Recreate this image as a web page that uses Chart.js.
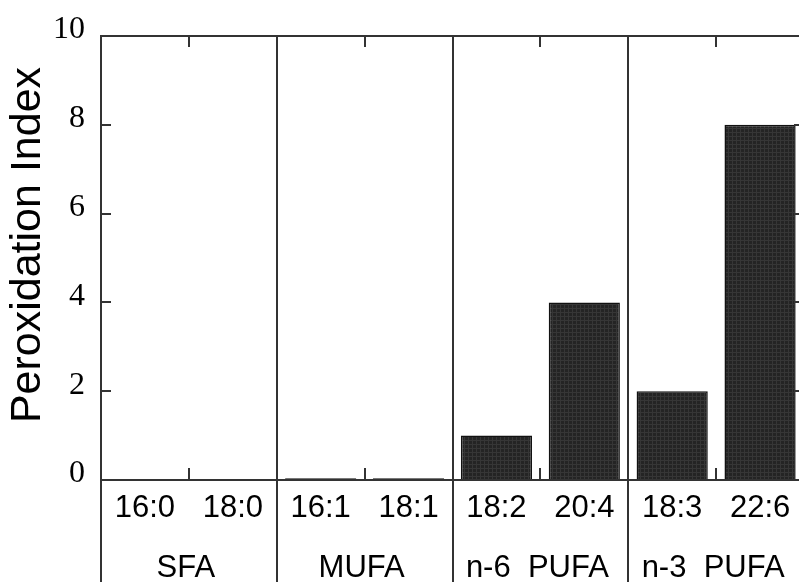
<!DOCTYPE html>
<html>
<head>
<meta charset="utf-8">
<script src="https://cdn.jsdelivr.net/npm/chart.js@4/dist/chart.umd.min.js"></script>
<style>
  html, body { margin: 0; padding: 0; overflow: hidden; background: #fff; }
  #wrap { position: relative; width: 806px; height: 582px; }
</style>
</head>
<body>
<div id="wrap"><canvas id="c"></canvas></div>
<script>
// Fatty acids and their peroxidation index
const fattyAcids = ['16:0', '18:0', '16:1', '18:1', '18:2', '20:4', '18:3', '22:6'];
const peroxidationIndex = [0, 0, 0.04, 0.04, 1, 4, 2, 8];
// Class labels, one per pair of fatty acids
const fattyAcidClasses = ['SFA', 'MUFA', 'n-6  PUFA', 'n-3  PUFA'];
const yTickValues = [0, 2, 4, 6, 8, 10];
const yTitle = 'Peroxidation Index';

const canvas = document.getElementById('c');
const ctx2d = canvas.getContext('2d');

// Fine dark mesh used to fill the bars
function meshPattern() {
  const t = document.createElement('canvas');
  t.width = 4; t.height = 4;
  const g = t.getContext('2d');
  g.fillStyle = '#242424';
  g.fillRect(0, 0, 4, 4);
  g.fillStyle = '#363636';
  g.fillRect(0, 0, 4, 1);
  g.fillRect(0, 0, 1, 4);
  return ctx2d.createPattern(t, 'repeat');
}

const LINE = '#333';

// Frame, group dividers, inward ticks, class labels and the y title
const framePlugin = {
  id: 'frame',
  afterDatasetsDraw(chart) {
    const { ctx, chartArea: a, scales: { x, y } } = chart;
    const H = chart.height;
    const step = x.getPixelForValue(1) - x.getPixelForValue(0);
    ctx.save();
    ctx.strokeStyle = LINE;
    ctx.lineWidth = 2;
    ctx.lineCap = 'butt';
    ctx.beginPath();
    // top and bottom lines
    ctx.moveTo(a.left, a.top); ctx.lineTo(a.right, a.top);
    ctx.moveTo(a.left, a.bottom); ctx.lineTo(a.right, a.bottom);
    // left axis runs down through the label rows
    ctx.moveTo(a.left, a.top - 1); ctx.lineTo(a.left, H);
    ctx.moveTo(a.right, a.top - 1); ctx.lineTo(a.right, a.bottom);
    // boundaries between categories
    for (let k = 1; k < fattyAcids.length; k++) {
      const bx = Math.round(x.getPixelForValue(k) - step / 2);
      if (k % 2 === 0) {
        ctx.moveTo(bx, a.top); ctx.lineTo(bx, H);
      } else {
        ctx.moveTo(bx, a.top); ctx.lineTo(bx, a.top + 11);
        ctx.moveTo(bx, a.bottom); ctx.lineTo(bx, a.bottom - 12);
      }
    }
    // y ticks on both sides, pointing inward
    yTickValues.forEach(v => {
      const py = Math.round(y.getPixelForValue(v));
      ctx.moveTo(a.left, py); ctx.lineTo(a.left + 10, py);
      ctx.moveTo(a.right, py); ctx.lineTo(a.right - 10, py);
    });
    ctx.stroke();

    // class labels under each pair
    ctx.fillStyle = '#000';
    ctx.font = '31px "Liberation Sans", Arial, sans-serif';
    ctx.textAlign = 'center';
    ctx.textBaseline = 'alphabetic';
    fattyAcidClasses.forEach((name, i) => {
      const cx = (x.getPixelForValue(2 * i) + x.getPixelForValue(2 * i + 1)) / 2;
      ctx.fillText(name, cx - 3, H - 5);
    });

    // y axis title
    ctx.font = '43px "Liberation Sans", Arial, sans-serif';
    ctx.translate(28, (a.top + a.bottom) / 2 - 13);
    ctx.rotate(-Math.PI / 2);
    ctx.textBaseline = 'middle';
    ctx.fillText(yTitle, 0, 0);
    ctx.restore();
  }
};

new Chart(canvas, {
  type: 'bar',
  data: {
    labels: fattyAcids,
    datasets: [{
      data: peroxidationIndex,
      backgroundColor: meshPattern(),
      borderColor: '#111',
      borderWidth: 1.5,
      categoryPercentage: 1,
      barPercentage: 0.81
    }]
  },
  options: {
    responsive: true,
    maintainAspectRatio: false,
    animation: false,
    layout: { padding: { top: 36, right: 2, left: 0, bottom: 0 } },
    plugins: { legend: { display: false }, tooltip: { enabled: false } },
    scales: {
      x: {
        grid: { display: false, drawTicks: false },
        border: { display: false },
        ticks: {
          color: '#000',
          padding: 10,
          maxRotation: 0,
          autoSkip: false,
          font: { family: '"Liberation Sans", Arial, sans-serif', size: 31 }
        },
        afterFit(s) { s.height = 102; }
      },
      y: {
        min: 0,
        max: 10,
        grid: { display: false, drawTicks: false },
        border: { display: false },
        afterBuildTicks(s) { s.ticks = yTickValues.map(v => ({ value: v })); },
        ticks: {
          color: '#000',
          padding: 16,
          labelOffset: -6,
          font: { family: '"Liberation Serif", "Times New Roman", serif', size: 32 }
        },
        afterFit(s) { s.width = 101; }
      }
    }
  },
  plugins: [framePlugin]
});
</script>
</body>
</html>
